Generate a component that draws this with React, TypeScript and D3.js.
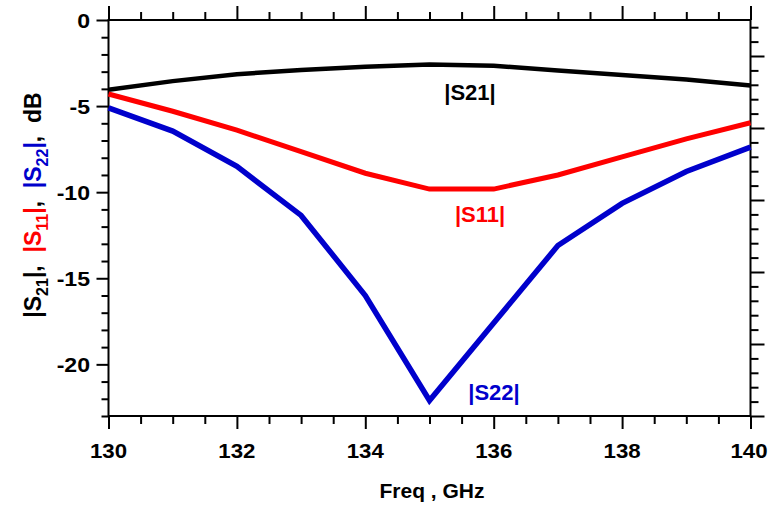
import React, { useEffect, useRef } from 'react';
import * as d3 from 'd3';

// frequency points, GHz
const freq = [130, 131, 132, 133, 134, 135, 136, 137, 138, 139, 140];
// magnitudes, dB
const s21 = [-4.05, -3.55, -3.15, -2.9, -2.72, -2.58, -2.66, -2.93, -3.2, -3.46, -3.8];
const s11 = [-4.3, -5.3, -6.4, -7.65, -8.9, -9.82, -9.82, -9.0, -7.95, -6.9, -5.97];
const s22 = [-5.1, -6.45, -8.5, -11.35, -16.0, -22.1, -17.6, -13.1, -10.65, -8.8, -7.38];

const xMajor = [130, 132, 134, 136, 138, 140];
const xMinor = [130.5, 131, 131.5, 132.5, 133, 133.5, 134.5, 135, 135.5, 136.5, 137, 137.5, 138.5, 139, 139.5];
const yMajor = [0, -5, -10, -15, -20];
const yMinor = [-1, -2, -3, -4, -6, -7, -8, -9, -11, -12, -13, -14, -16, -17, -18, -19, -21, -22, -23];
// unlabeled right-hand axis
const rMajor = [0, 5, 10, 15, 20, 25];
const rMinor = [1, 2, 3, 4, 6, 7, 8, 9, 11, 12, 13, 14, 16, 17, 18, 19, 21, 22, 23, 24, 26, 27];

const FONT = '"Liberation Sans", Arial, sans-serif';
const RED = '#ff0000';
const BLUE = '#0000cc';

const App = () => {
  const svgRef = useRef<SVGSVGElement>(null);

  useEffect(() => {
    const svg = d3.select(svgRef.current);
    svg.selectAll('*').remove();

    const left = 108.5, right = 750.5, top = 20, bottom = 416;

    const x = d3.scaleLinear().domain([130, 140]).range([left, right]);
    const y = d3.scaleLinear().domain([-23, 0]).range([bottom, top]);
    const yR = d3.scaleLinear().domain([0, 27.5]).range([bottom, top]);

    const g = svg.append('g');

    // tick helper: draws the axis ticks, no domain line
    const ticks = (axis: any, transform: string) => {
      const a = g.append('g').attr('transform', transform).call(axis);
      a.select('.domain').remove();
      a.selectAll('line').attr('stroke', '#000').attr('stroke-width', 2);
      a.selectAll('text').remove();
    };

    ticks(d3.axisBottom(x).tickValues(xMajor).tickSize(13), `translate(0,${bottom})`);
    ticks(d3.axisBottom(x).tickValues(xMinor).tickSize(8), `translate(0,${bottom})`);
    ticks(d3.axisTop(x).tickValues(xMajor).tickSize(14), `translate(0,${top})`);
    ticks(d3.axisTop(x).tickValues(xMinor).tickSize(8), `translate(0,${top})`);
    ticks(d3.axisLeft(y).tickValues(yMajor).tickSize(12), `translate(${left},0)`);
    ticks(d3.axisLeft(y).tickValues(yMinor).tickSize(7), `translate(${left},0)`);
    ticks(d3.axisRight(yR).tickValues(rMajor).tickSize(14), `translate(${right},0)`);
    ticks(d3.axisRight(yR).tickValues(rMinor).tickSize(8), `translate(${right},0)`);

    // frame
    g.append('rect')
      .attr('x', left)
      .attr('y', top)
      .attr('width', right - left)
      .attr('height', bottom - top)
      .attr('fill', 'none')
      .attr('stroke', '#000')
      .attr('stroke-width', 2);

    // tick labels
    g.selectAll('.xl')
      .data(xMajor)
      .enter()
      .append('text')
      .attr('transform', d => `translate(${Math.min(x(d), 749)},458) scale(1.06,1)`)
      .attr('text-anchor', 'middle')
      .style('font', `bold 21px ${FONT}`)
      .text(d => d);

    g.selectAll('.yl')
      .data(yMajor)
      .enter()
      .append('text')
      .attr('transform', d => `translate(90,${y(d)}) scale(1.1,1)`)
      .attr('dy', '0.36em')
      .attr('text-anchor', 'end')
      .style('font', `bold 21px ${FONT}`)
      .text(d => d);

    // axis titles
    g.append('text')
      .attr('x', 432)
      .attr('y', 498)
      .attr('text-anchor', 'middle')
      .style('font', `bold 21px ${FONT}`)
      .text('Freq , GHz');

    const yt = g.append('text')
      .attr('transform', 'translate(41,205) rotate(-90)')
      .attr('text-anchor', 'middle')
      .style('font', `bold 23px ${FONT}`)
      .style('white-space', 'pre');
    const parts: [string, string, number][] = [
      ['|S', '#000', 0], ['21', '#000', 1], ['|,  ', '#000', -1],
      ['|S', RED, 0], ['11', RED, 1], ['|', RED, -1], [',  ', '#000', 0],
      ['|S', BLUE, 0], ['22', BLUE, 1], ['|', BLUE, -1], [',  ', '#000', 0],
      ['dB', '#000', 0],
    ];
    parts.forEach(([t, c, s]) => {
      yt.append('tspan')
        .attr('fill', c)
        .attr('dy', s * 7)
        .style('font-size', s === 1 ? '16px' : '23px')
        .text(t);
    });

    // curves
    const line = d3.line<number>()
      .x((d, i) => x(freq[i]))
      .y(d => y(d));

    const series: [number[], string, number][] = [
      [s21, '#000', 4.5],
      [s11, RED, 5],
      [s22, BLUE, 5.5],
    ];
    series.forEach(([data, color, w]) => {
      g.append('path')
        .datum(data)
        .attr('fill', 'none')
        .attr('stroke', color)
        .attr('stroke-width', w)
        .attr('d', line);
    });

    // curve labels
    const labels: [string, string, number, number][] = [
      ['|S21|', '#000', 470, 100],
      ['|S11|', RED, 480, 222],
      ['|S22|', BLUE, 494, 400],
    ];
    labels.forEach(([t, c, lx, ly]) => {
      g.append('text')
        .attr('x', lx)
        .attr('y', ly)
        .attr('text-anchor', 'middle')
        .attr('fill', c)
        .style('font', `bold 22px ${FONT}`)
        .text(t);
    });
  }, []);

  return (
    <svg
      ref={svgRef}
      width={769}
      height={505}
      style={{ position: 'absolute', left: 0, top: 0, background: '#fff' }}
    />
  );
};

export default App;
